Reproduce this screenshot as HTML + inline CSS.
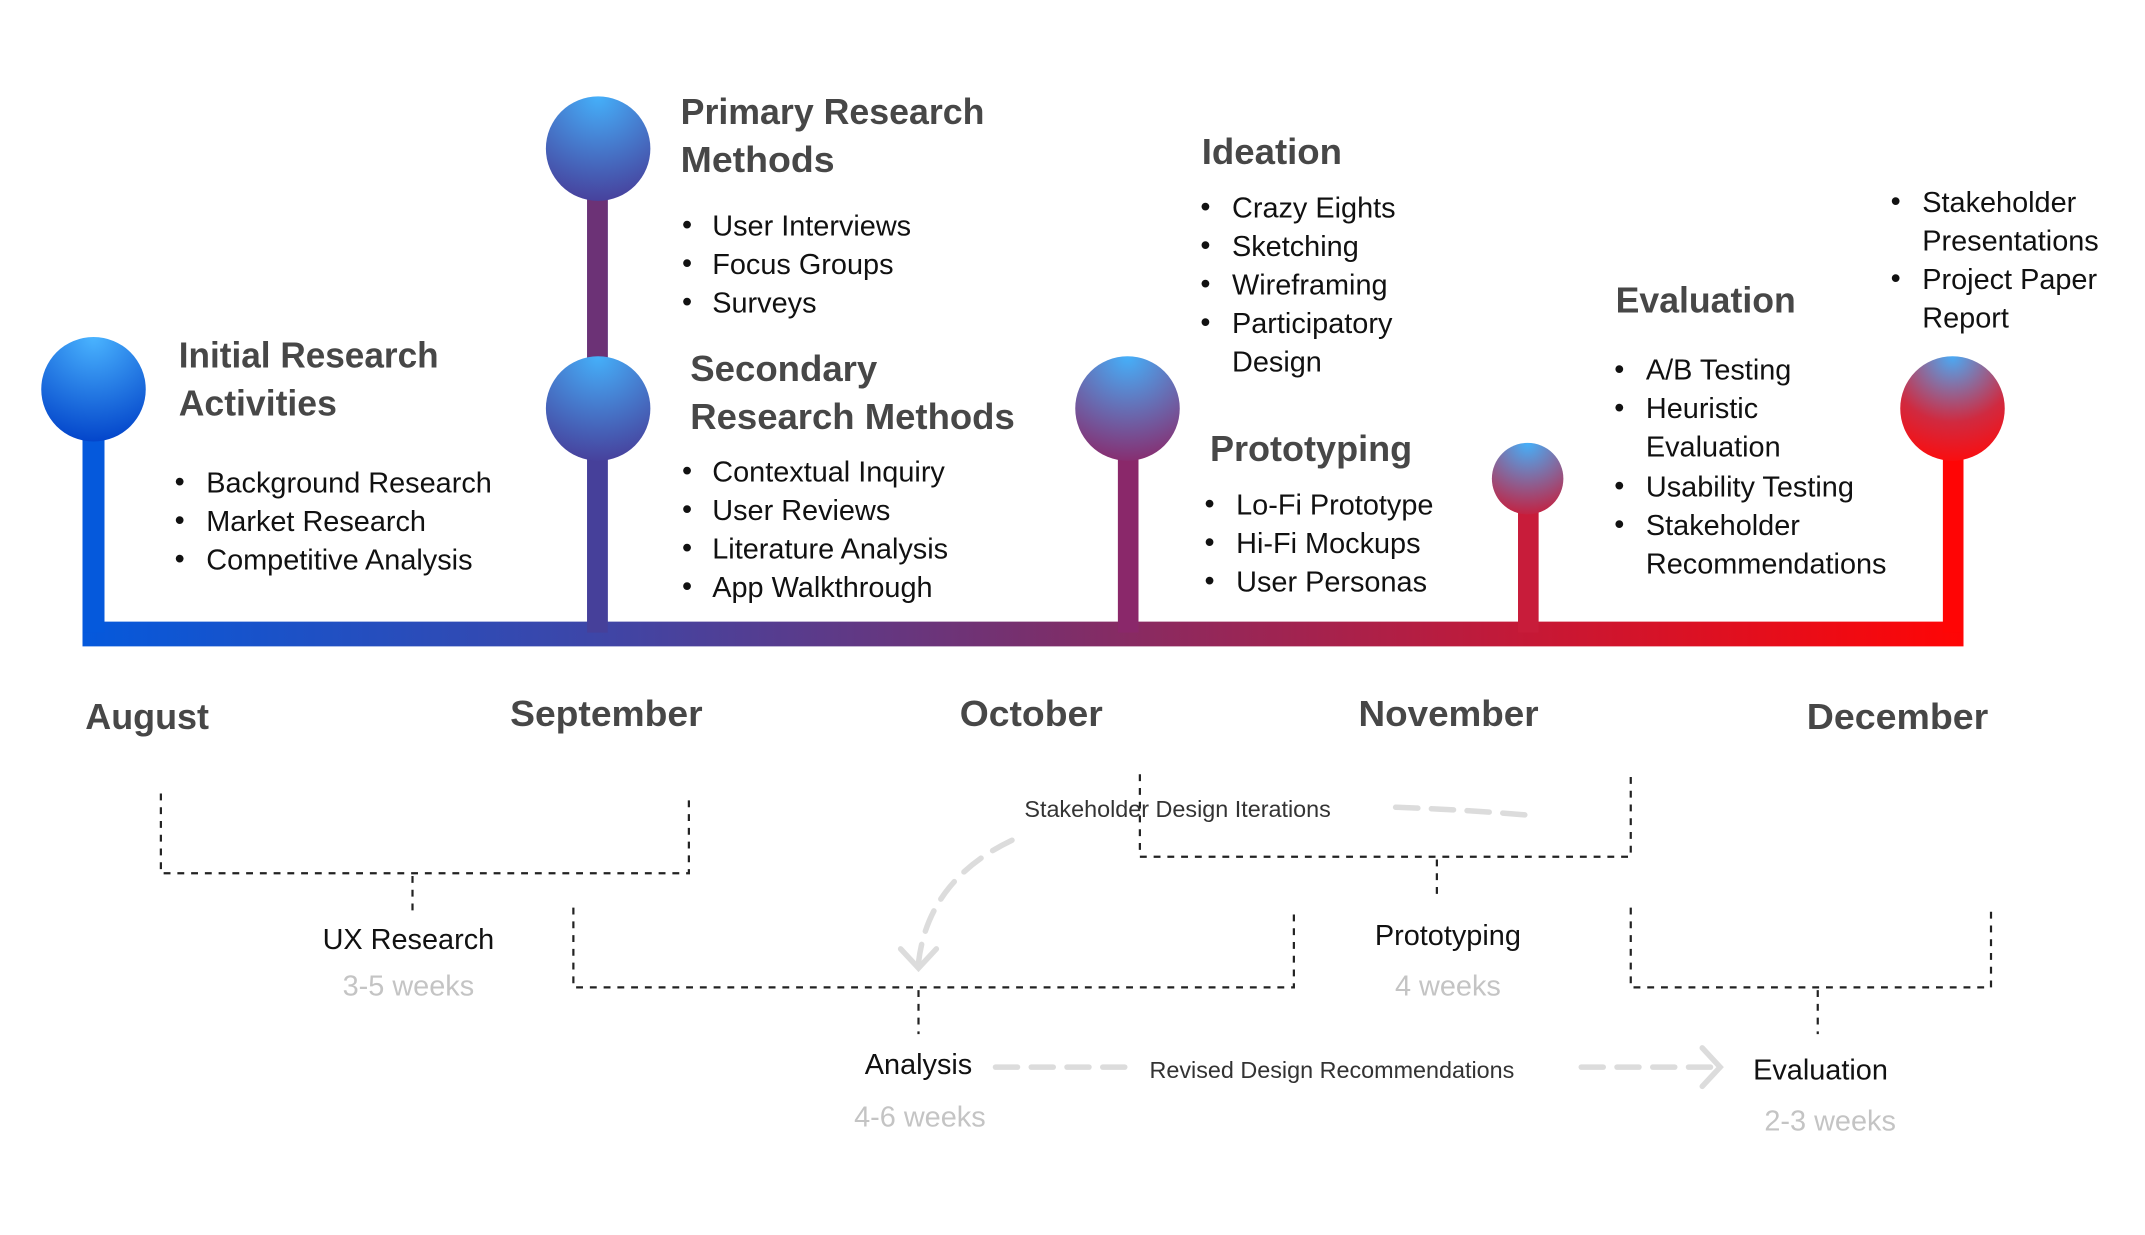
<!DOCTYPE html>
<html><head><meta charset="utf-8"><style>
html,body{margin:0;padding:0;background:#fff;}
svg{display:block;}
.h{font-family:"Liberation Sans",sans-serif;font-weight:bold;font-size:26px;fill:#474747;}
.b{font-family:"Liberation Sans",sans-serif;font-size:21px;fill:#111;}
.l{font-family:"Liberation Sans",sans-serif;font-size:21px;fill:#111;}
.g{font-family:"Liberation Sans",sans-serif;font-size:21px;fill:#c4c4c4;}
.s{font-family:"Liberation Sans",sans-serif;font-size:17px;fill:#333;}
</style></head><body>
<svg width="2145" height="1235" viewBox="0 0 1560 898" xmlns="http://www.w3.org/2000/svg">
<defs>
<linearGradient id="bar" x1="60" y1="0" x2="1428" y2="0" gradientUnits="userSpaceOnUse">
<stop offset="0" stop-color="#0559dc"/><stop offset="0.27" stop-color="#3d46a8"/><stop offset="0.5" stop-color="#77306e"/><stop offset="0.75" stop-color="#c01a3a"/><stop offset="1" stop-color="#ff0505"/>
</linearGradient>
<radialGradient id="c1" cx="0.5" cy="0" r="1.05"><stop offset="0" stop-color="#4ab4ff"/><stop offset="1" stop-color="#0040c8"/></radialGradient>
<radialGradient id="c2" cx="0.5" cy="0" r="1.05"><stop offset="0" stop-color="#45b0fa"/><stop offset="1" stop-color="#473c98"/></radialGradient>
<radialGradient id="c4" cx="0.5" cy="0" r="1.05"><stop offset="0" stop-color="#45b0fa"/><stop offset="1" stop-color="#8a286a"/></radialGradient>
<radialGradient id="c5" cx="0.5" cy="0" r="1.05"><stop offset="0" stop-color="#45b0fa"/><stop offset="1" stop-color="#c81c3a"/></radialGradient>
<radialGradient id="c6" cx="0.5" cy="0" r="1.05"><stop offset="0" stop-color="#4aaaf5"/><stop offset="0.6" stop-color="#d02a40"/><stop offset="1" stop-color="#ff0a0a"/></radialGradient>
</defs>

<!-- stems and bar -->
<rect x="60" y="452" width="1368" height="18" fill="url(#bar)"/>
<rect x="60" y="290" width="16" height="170" fill="#0559dc"/>
<rect x="427" y="110" width="15" height="350" fill="url(#bar)"/>
<rect x="427" y="110" width="15" height="160" fill="#6c3276"/>
<rect x="427" y="300" width="15" height="160" fill="#46409a"/>
<rect x="813" y="300" width="15" height="160" fill="#8a286a"/>
<rect x="1104" y="350" width="15" height="110" fill="#c81c3a"/>
<rect x="1413" y="300" width="15" height="160" fill="#ff0505"/>

<circle cx="68" cy="283" r="38" fill="url(#c1)"/>
<circle cx="435" cy="108" r="38" fill="url(#c2)"/>
<circle cx="435" cy="297" r="38" fill="url(#c2)"/>
<circle cx="820" cy="297" r="38" fill="url(#c4)"/>
<circle cx="1111" cy="348" r="26" fill="url(#c5)"/>
<circle cx="1420" cy="297" r="38" fill="url(#c6)"/>

<!-- headings -->
<text class="h" x="130" y="267" textLength="189" lengthAdjust="spacingAndGlyphs">Initial Research</text>
<text class="h" x="130" y="302" textLength="115" lengthAdjust="spacingAndGlyphs">Activities</text>
<text class="h" x="495" y="90" textLength="221" lengthAdjust="spacingAndGlyphs">Primary Research</text>
<text class="h" x="495" y="125" textLength="112" lengthAdjust="spacingAndGlyphs">Methods</text>
<text class="h" x="502" y="277" textLength="136" lengthAdjust="spacingAndGlyphs">Secondary</text>
<text class="h" x="502" y="312" textLength="236" lengthAdjust="spacingAndGlyphs">Research Methods</text>
<text class="h" x="874" y="119" textLength="102" lengthAdjust="spacingAndGlyphs">Ideation</text>
<text class="h" x="880" y="335" textLength="147" lengthAdjust="spacingAndGlyphs">Prototyping</text>
<text class="h" x="1175" y="227" textLength="131" lengthAdjust="spacingAndGlyphs">Evaluation</text>

<!-- bullets -->
<g class="b">
<text x="127" y="357">•</text><text x="150" y="358">Background Research</text>
<text x="127" y="385">•</text><text x="150" y="386">Market Research</text>
<text x="127" y="413">•</text><text x="150" y="414">Competitive Analysis</text>

<text x="496" y="170">•</text><text x="518" y="171">User Interviews</text>
<text x="496" y="198">•</text><text x="518" y="199">Focus Groups</text>
<text x="496" y="226">•</text><text x="518" y="227">Surveys</text>

<text x="496" y="349">•</text><text x="518" y="350">Contextual Inquiry</text>
<text x="496" y="377">•</text><text x="518" y="378">User Reviews</text>
<text x="496" y="405">•</text><text x="518" y="406">Literature Analysis</text>
<text x="496" y="433">•</text><text x="518" y="434">App Walkthrough</text>

<text x="873" y="157">•</text><text x="896" y="158">Crazy Eights</text>
<text x="873" y="185">•</text><text x="896" y="186">Sketching</text>
<text x="873" y="213">•</text><text x="896" y="214">Wireframing</text>
<text x="873" y="241">•</text><text x="896" y="242">Participatory</text>
<text x="896" y="270">Design</text>

<text x="876" y="373">•</text><text x="899" y="374">Lo-Fi Prototype</text>
<text x="876" y="401">•</text><text x="899" y="402">Hi-Fi Mockups</text>
<text x="876" y="429">•</text><text x="899" y="430">User Personas</text>

<text x="1174" y="275">•</text><text x="1197" y="276">A/B Testing</text>
<text x="1174" y="303">•</text><text x="1197" y="304">Heuristic</text>
<text x="1197" y="332">Evaluation</text>
<text x="1174" y="360">•</text><text x="1197" y="361">Usability Testing</text>
<text x="1174" y="388">•</text><text x="1197" y="389">Stakeholder</text>
<text x="1197" y="417">Recommendations</text>

<text x="1375" y="153">•</text><text x="1398" y="154">Stakeholder</text>
<text x="1398" y="182">Presentations</text>
<text x="1375" y="209">•</text><text x="1398" y="210">Project Paper</text>
<text x="1398" y="238">Report</text>
</g>

<!-- months -->
<text class="h" x="62" y="530" textLength="90" lengthAdjust="spacingAndGlyphs">August</text>
<text class="h" x="371" y="528" textLength="140" lengthAdjust="spacingAndGlyphs">September</text>
<text class="h" x="698" y="528" textLength="104" lengthAdjust="spacingAndGlyphs">October</text>
<text class="h" x="988" y="528" textLength="131" lengthAdjust="spacingAndGlyphs">November</text>
<text class="h" x="1314" y="530" textLength="132" lengthAdjust="spacingAndGlyphs">December</text>

<!-- brackets -->
<g fill="none" stroke="#222" stroke-width="1.6" stroke-dasharray="5 5">
<path d="M117 577 V635 H501 V577"/><path d="M300 637 V665"/>
<path d="M417 660 V718 H941 V660"/><path d="M668 720 V752"/>
<path d="M829 563 V623 H1186 V563"/><path d="M1045 625 V653"/>
<path d="M1186 660 V718 H1448 V660"/><path d="M1322 720 V752"/>
</g>

<!-- gray arrows -->
<g fill="none" stroke="#dcdcdc" stroke-width="4" stroke-linecap="round">
<path d="M1015 587 Q1070 589 1114 593" stroke-dasharray="16 10"/>
<path d="M736 611 Q675 640 668 700" stroke-dasharray="16 10"/>
<path d="M655 690 L668 704 L681 690"/>
<path d="M724 776 H826" stroke-dasharray="16 10"/>
<path d="M1150 776 H1248" stroke-dasharray="16 10"/>
<path d="M1238 762 L1251 776 L1238 790"/>
</g>

<text class="s" x="745" y="594">Stakeholder Design Iterations</text>
<text class="s" x="836" y="784">Revised Design Recommendations</text>

<text class="l" x="297" y="690" text-anchor="middle">UX Research</text>
<text class="g" x="297" y="724" text-anchor="middle">3-5 weeks</text>
<text class="l" x="668" y="781" text-anchor="middle">Analysis</text>
<text class="g" x="669" y="819" text-anchor="middle">4-6 weeks</text>
<text class="l" x="1053" y="687" text-anchor="middle">Prototyping</text>
<text class="g" x="1053" y="724" text-anchor="middle">4 weeks</text>
<text class="l" x="1324" y="785" text-anchor="middle">Evaluation</text>
<text class="g" x="1331" y="822" text-anchor="middle">2-3 weeks</text>
</svg>
</body></html>
